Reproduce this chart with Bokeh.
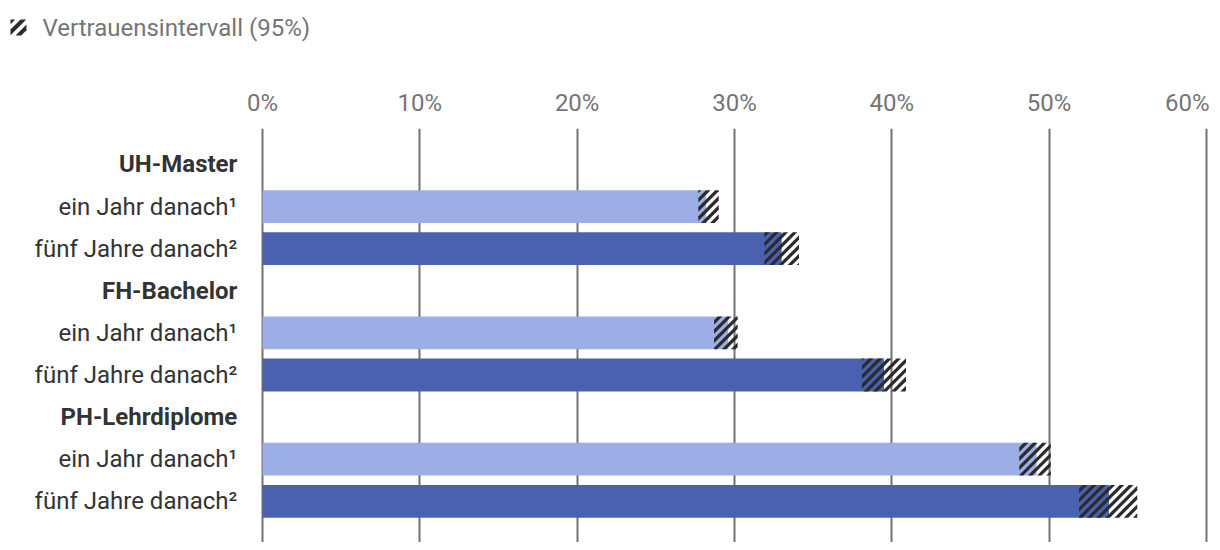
import math
from bokeh.plotting import figure
from bokeh.layouts import column
from bokeh.models import ColumnDataSource, Range1d, FixedTicker
from bokeh.embed import file_html
from bokeh.resources import INLINE
from bokeh.core.properties import value

# ---- data ----
groups = ["UH-Master", "FH-Bachelor", "PH-Lehrdiplome"]
periods = ["ein Jahr danach¹", "fünf Jahre danach²"]
share_one_year = [28.2, 29.6, 49.2]
ci_low_one_year = [27.7, 28.7, 48.1]
ci_high_one_year = [29.0, 30.2, 50.1]
share_five_years = [33.0, 39.5, 53.8]
ci_low_five_years = [31.9, 38.1, 51.9]
ci_high_five_years = [34.1, 40.9, 55.6]
ticks = [0, 10, 20, 30, 40, 50, 60]
tick_labels = ["0%", "10%", "20%", "30%", "40%", "50%", "60%"]
legend_label = "Vertrauensintervall (95%)"

# ---- styles / layout ----
period_colors = ["#9caee5", "#4a61b0"]
FONT = "Roboto"
FS = "24px"
TEXT_DARK = "#333333"
TEXT_GREY = "#757575"
GRID = "#737373"
STRIPE = "#2b2b2b"
W = 1220
W_MAIN = 1209
LEG_H = 56
MAIN_H = 486
TOP_BORDER = 72
RIGHT_BORDER = 1
ZERO_PX = 262.0          # pixel of 0 %
PX_PER_PCT = 15.733      # pixels per percentage point
PX_PER_ROW = 42.1        # pixels per row
TOP_OFFSET_ROWS = 0.855  # rows of space above first row
BAR_H = 0.78
STRIPE_P = 9.2           # stripe period (px, horizontal)
STRIPE_W = 4.6           # stripe width (px, horizontal)

frame_h = MAIN_H - TOP_BORDER
x_start = -ZERO_PX / PX_PER_PCT
x_end = (W_MAIN - RIGHT_BORDER - ZERO_PX) / PX_PER_PCT
y_top = -TOP_OFFSET_ROWS
y_bottom = y_top + frame_h / PX_PER_ROW


def clip(poly, a, b, c):
    """Keep part of polygon where a*x + b*y <= c (Sutherland-Hodgman)."""
    out = []
    n = len(poly)
    for i in range(n):
        p1 = poly[i]
        p2 = poly[(i + 1) % n]
        v1 = a * p1[0] + b * p1[1] - c
        v2 = a * p2[0] + b * p2[1] - c
        if v1 <= 0:
            out.append(p1)
        if (v1 < 0 < v2) or (v2 < 0 < v1):
            t = v1 / (v1 - v2)
            out.append((p1[0] + t * (p2[0] - p1[0]), p1[1] + t * (p2[1] - p1[1])))
    return out


def stripes(x0, x1, y0, y1, period, width, phase=0.0):
    """Diagonal '/' stripe polygons inside rect (screen px, y down)."""
    polys = []
    kmin = math.floor((x0 + y0 - phase) / period) - 1
    kmax = math.ceil((x1 + y1 - phase) / period) + 1
    rect = [(x0, y0), (x1, y0), (x1, y1), (x0, y1)]
    for k in range(kmin, kmax + 1):
        c0 = phase + k * period
        poly = clip(rect, -1, -1, -c0)
        if poly:
            poly = clip(poly, 1, 1, c0 + width)
        if len(poly) >= 3:
            polys.append(poly)
    return polys


# ---- build rows ----
header_y, header_txt = [], []
row_y, row_txt, bar_val, bar_col, lo, hi = [], [], [], [], [], []
series = [
    (share_one_year, ci_low_one_year, ci_high_one_year),
    (share_five_years, ci_low_five_years, ci_high_five_years),
]
for gi, g in enumerate(groups):
    base = gi * 3
    header_y.append(base)
    header_txt.append(g)
    for pi, per in enumerate(periods):
        vals, los, his = series[pi]
        row_y.append(base + 1 + pi)
        row_txt.append(per)
        bar_val.append(vals[gi])
        bar_col.append(period_colors[pi])
        lo.append(los[gi])
        hi.append(his[gi])

bars = ColumnDataSource(dict(y=row_y, v=bar_val, c=bar_col, lo=lo, hi=hi, txt=row_txt))
heads = ColumnDataSource(dict(y=header_y, txt=header_txt))

# stripe polygons for the confidence intervals (derived from lo/hi via scale)
sx_list, sy_list = [], []
for yc, l, h in zip(row_y, lo, hi):
    x0, x1 = l * PX_PER_PCT, h * PX_PER_PCT
    y0, y1 = (yc - BAR_H / 2) * PX_PER_ROW, (yc + BAR_H / 2) * PX_PER_ROW
    for poly in stripes(x0, x1, y0, y1, STRIPE_P, STRIPE_W):
        sx_list.append([pt[0] / PX_PER_PCT for pt in poly])
        sy_list.append([pt[1] / PX_PER_ROW for pt in poly])

# ---- legend strip ----
leg = figure(width=W, height=LEG_H, output_backend="svg", toolbar_location=None,
             x_range=Range1d(0, W), y_range=Range1d(LEG_H, 0),
             x_axis_location=None, y_axis_location=None,
             min_border=0)
leg.outline_line_color = None
leg.grid.grid_line_color = None
icon = stripes(10, 26, 19, 35, 11, 5.8, phase=28)
leg.patches(xs=[[q[0] for q in poly] for poly in icon],
            ys=[[q[1] for q in poly] for poly in icon],
            fill_color=STRIPE, line_color=None)
leg.text(x=[42], y=[27], text=[legend_label], text_baseline="middle",
         text_font=value(FONT), text_font_size=FS, text_color=TEXT_GREY)

# ---- main chart ----
p = figure(width=W_MAIN, height=MAIN_H, output_backend="svg", toolbar_location=None,
           x_range=Range1d(x_start, x_end), y_range=Range1d(y_bottom, y_top),
           x_axis_location="above", y_axis_location=None,
           min_border_top=TOP_BORDER, min_border_left=0,
           min_border_right=RIGHT_BORDER, min_border_bottom=0)
p.outline_line_color = None
p.ygrid.grid_line_color = None
p.xgrid.ticker = FixedTicker(ticks=ticks)
p.xgrid.grid_line_color = GRID
p.xgrid.grid_line_width = 2

ax = p.xaxis[0]
ax.ticker = FixedTicker(ticks=ticks)
ax.major_label_overrides = {t: l for t, l in zip(ticks, tick_labels)}
ax.axis_line_color = None
ax.major_tick_line_color = None
ax.minor_tick_line_color = None
ax.major_label_text_font = FONT
ax.major_label_text_font_size = FS
ax.major_label_text_color = TEXT_GREY
ax.major_label_standoff = 6

p.hbar(y="y", left=0, right="v", height=BAR_H, source=bars,
       fill_color="c", line_color=None)
p.patches(xs=sx_list, ys=sy_list, fill_color=STRIPE, line_color=None)

p.text(x=-1.6, y="y", text="txt", source=bars, text_align="right",
       text_baseline="middle", text_font=value(FONT), text_font_size=FS,
       text_color=TEXT_DARK)
p.text(x=-1.6, y="y", text="txt", source=heads, text_align="right",
       text_baseline="middle", text_font=value(FONT), text_font_size=FS,
       text_font_style="bold", text_color=TEXT_DARK)

layout = column(leg, p, spacing=0)
open("out.html", "w").write(file_html(layout, INLINE))
